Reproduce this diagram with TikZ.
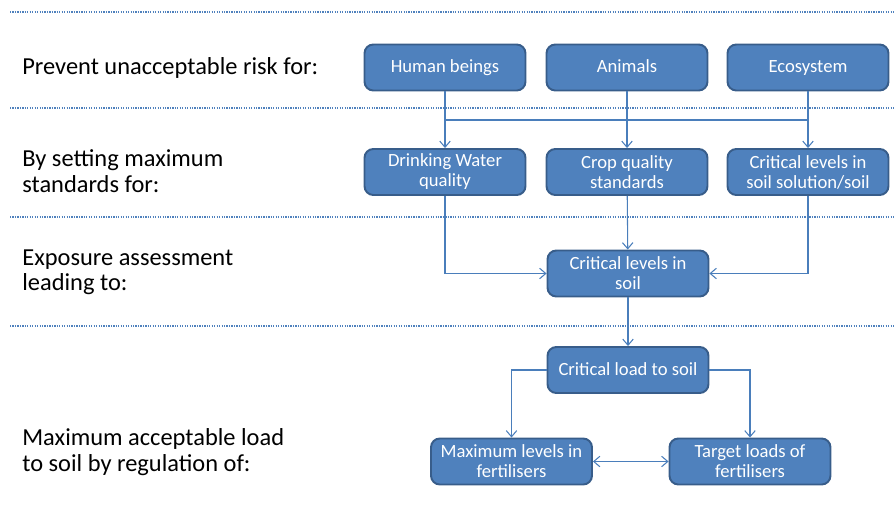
\documentclass[tikz,border=0pt]{standalone}
\usepackage{fontspec}
\setmainfont{Carlito}
\usetikzlibrary{arrows.meta}
\definecolor{boxfill}{HTML}{4F81BD}
\definecolor{boxline}{HTML}{385D8A}
\definecolor{linkcol}{HTML}{4A7EBB}

\begin{document}
\begin{tikzpicture}[x=0.02cm,y=-0.02cm,
    box/.style={draw=boxline,line width=1.1pt,fill=boxfill,rounded corners=5pt,
      text=white,minimum width=3.22cm,minimum height=0.92cm,inner sep=1pt,
      align=center,font=\fontsize{10.6pt}{11.4pt}\selectfont},
    oneline/.style={text height=1.5ex,text depth=0.3ex},
    lbl/.style={anchor=west,align=left,inner sep=0pt,
      font=\fontsize{13.9pt}{14.4pt}\selectfont},
    link/.style={draw=linkcol,line width=0.6pt},
    arr/.style={link,-{Straight Barb[length=3.5pt,width=6pt]}},
    twoarr/.style={link,{Straight Barb[length=3.5pt,width=6pt]}-{Straight Barb[length=3.5pt,width=6pt]}},
    sep/.style={draw=boxfill,line width=0.7pt,dash pattern=on 0.7pt off 0.7pt}]
  \useasboundingbox (0,0) rectangle (894,511);
  % Separators
  \foreach \y in {12,108,217,326}
    \draw[sep] (10,\y) -- (894,\y);
  % Left labels
  \node[lbl] (lrisk) at (22,68) {Prevent unacceptable risk for:};
  \node[lbl] (lset) at (22,171) {By setting maximum\\standards for:};
  \node[lbl] (lexp) at (22,272) {Exposure assessment\\leading to:};
  \node[lbl] (lmax) at (22,452) {Maximum acceptable load\\to soil by regulation of:};
  % Top row
  \node[box,oneline] (human) at (445,67.5) {Human beings};
  \node[box,oneline] (animals) at (627,67.5) {Animals};
  \node[box,oneline] (eco) at (808,67.5) {Ecosystem};
  % Standards
  \node[box] (water) at (445,172) {Drinking Water\\quality};
  \node[box] (crop) at (627,172) {Crop quality\\standards};
  \node[box] (critsol) at (808,172) {Critical levels in\\soil solution/soil};
  % Soil
  \node[box] (critsoil) at (628,273.5) {Critical levels in\\soil};
  \node[box,oneline] (load) at (628,370) {Critical load to soil};
  \node[box] (maxfert) at (511.5,461.5) {Maximum levels in\\fertilisers};
  \node[box] (target) at (750,461.5) {Target loads of\\fertilisers};
  % Connectors
  \coordinate (join) at (0,120);
  \draw[arr] (human) -- (water);
  \draw[arr] (animals) -- (crop);
  \draw[arr] (eco) -- (critsol);
  \draw[link] (human |- join) -- (eco |- join);
  \draw[arr] (water.south) |- (critsoil.west);
  \draw[arr] (crop) -- (critsoil);
  \draw[arr] (critsol.south) |- (critsoil.east);
  \draw[arr] (critsoil) -- (load);
  \draw[arr] (load.west) -| (maxfert.north);
  \draw[arr] (load.east) -| (target.north);
  \draw[twoarr] (maxfert) -- (target);
\end{tikzpicture}
\end{document}
